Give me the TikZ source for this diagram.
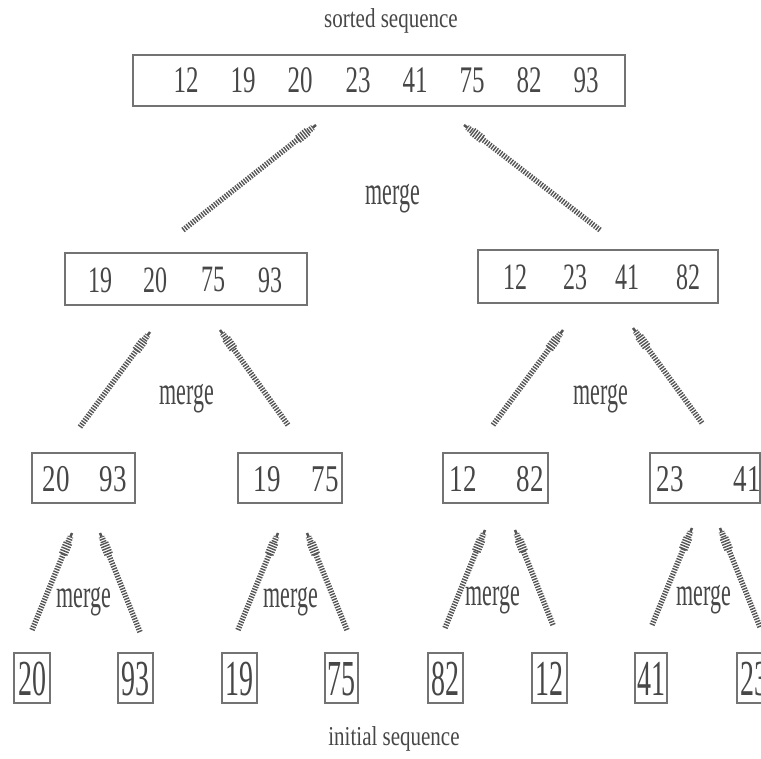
\documentclass[tikz,border=0pt]{standalone}
\usepackage{fontspec}
\setmainfont{Liberation Serif}
\usetikzlibrary{calc}
\definecolor{ink}{HTML}{474747}
\definecolor{edge}{HTML}{737373}
\definecolor{hatchc}{HTML}{555555}
\newcommand\vsc[2]{\scalebox{1}[#1]{#2}}
\newcommand\harrow[2]{%
  \draw[shaftln] (#1) -- ($(#2)!22pt!(#1)$);
  \draw[headA] ($(#2)!23pt!(#1)$) -- ($(#2)!10pt!(#1)$);
  \draw[headB] ($(#2)!10pt!(#1)$) -- ($(#2)!4pt!(#1)$);
  \draw[headC] ($(#2)!4pt!(#1)$) -- (#2);
}
\begin{document}
\begin{tikzpicture}[x=1pt,y=-1pt,
  box/.style={draw=edge,line width=1.7pt,inner sep=0pt},
  num/.style={text=ink,inner sep=0pt},
  lbl/.style={text=ink,inner sep=0pt,anchor=base},
  shaftln/.style={draw=hatchc,line width=5.5pt,dash pattern=on 1.4pt off 1.3pt},
  headA/.style={draw=hatchc,line width=9pt,dash pattern=on 1.4pt off 1.3pt},
  headB/.style={draw=hatchc,line width=6pt,dash pattern=on 1.4pt off 1.2pt},
  headC/.style={draw=hatchc,line width=2.5pt},
  topf/.style={font=\fontsize{25}{25}\selectfont},
  midf/.style={font=\fontsize{24}{24}\selectfont},
  lowf/.style={font=\fontsize{27}{27}\selectfont},
  botf/.style={font=\fontsize{28}{28}\selectfont},
  mf/.style={font=\fontsize{22}{22}\selectfont},
  sf/.style={font=\fontsize{21}{21}\selectfont}]
\useasboundingbox (0,0) rectangle (761,759);
\fill[white] (0,0) rectangle (761,759);
\clip (0,0) rectangle (761,759);

% labels
\node[lbl,sf] (sorted) at (391,28) {\vsc{1.3}{sorted sequence}};
\node[lbl,sf] (initial) at (394,745) {\vsc{1.3}{initial sequence}};

% top box
\node[box,minimum width=492pt,minimum height=51pt] (top) at (379,80.5) {};
\foreach \v/\x [count=\i] in {12/186,19/243,20/300,23/358,41/415,75/472,82/529,93/586}
  \node[num,topf] (t\i) at (\x,80.5) {\vsc{1.5}{\v}};

% level 2
\node[box,minimum width=242pt,minimum height=52pt] (La) at (186,279) {};
\foreach \v/\x [count=\i] in {19/100,20/155,75/213,93/270}
  \node[num,midf] (la\i) at (\x,280) {\vsc{1.55}{\v}};
\node[box,minimum width=240pt,minimum height=53pt] (Lb) at (598,276.5) {};
\foreach \v/\x [count=\i] in {12/515,23/575,41/627,82/688}
  \node[num,midf] (lb\i) at (\x,277.5) {\vsc{1.55}{\v}};

% level 3
\foreach \n/\cx/\w/\va/\xa/\vb/\xb in {Ma/83.5/103/20/56/93/113, Mb/290/104/19/267/75/325,
    Mc/495.5/105/12/463/82/530, Md/705/110/23/670/41/747}{
  \node[box,minimum width=\w pt,minimum height=50pt] (\n) at (\cx,478) {};
  \node[num,lowf] (\n-1) at (\xa,479) {\vsc{1.4}{\va}};
  \node[num,lowf] (\n-2) at (\xb,479) {\vsc{1.4}{\vb}};
}

% bottom
\foreach \v/\x/\w [count=\i] in {20/32/36,93/135.5/35,19/239.5/35,75/341.5/33,82/445.5/35,12/549.5/35,41/651/32,23/754.5/35}{
  \node[box,minimum width=\w pt,minimum height=50pt] (B\i) at (\x,678) {};
  \node[num,botf] (b\i) at (\x,679) {\vsc{1.8}{\v}};
}

% merge labels
\node[lbl,mf] (m0) at (393,205) {\vsc{1.8}{merge}};
\node[lbl,mf] (m1) at (187,405) {\vsc{1.8}{merge}};
\node[lbl,mf] (m2) at (601,405) {\vsc{1.8}{merge}};
\node[lbl,mf] (m3) at (84,607) {\vsc{1.8}{merge}};
\node[lbl,mf] (m4) at (291,607) {\vsc{1.8}{merge}};
\node[lbl,mf] (m5) at (493,605) {\vsc{1.8}{merge}};
\node[lbl,mf] (m6) at (704,605) {\vsc{1.8}{merge}};

% arrows
\foreach \n/\tx/\ty/\hx/\hy in {a1/183/230/316/125, a2/600/230/464/125,
   b1/80/427/150/332, b2/288/425/220/330, b3/493/425/563/330, b4/702/423/633/328,
   c1/32/630/72/533, c2/140/632/100/533, c3/238/630/278/533, c4/347/630/307/533,
   c5/445/628/485/530, c6/553/625/515/530, c7/652/625/692/528, c8/760/627/720/528}{
  \coordinate (\n-t) at (\tx,\ty);
  \coordinate (\n-h) at (\hx,\hy);
  \harrow{\n-t}{\n-h}
}
\end{tikzpicture}
\end{document}
